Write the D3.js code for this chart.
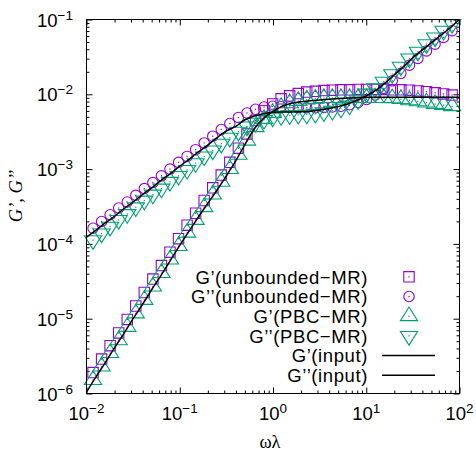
<!DOCTYPE html>
<html><head><meta charset="utf-8">
<script src="https://cdn.jsdelivr.net/npm/d3@7"></script>
<style>body{margin:0;background:#fff}svg{display:block}</style>
</head><body>
<svg id="chart" width="476" height="452"></svg>
<script>
// ---- data (y given as log10) ----
const xTickValues = [0.01, 0.1, 1, 10, 100];
const xTickExp = ["\u22122", "\u22121", "0", "1", "2"];
const yTickValues = [1e-6, 1e-5, 1e-4, 1e-3, 1e-2, 1e-1];
const yTickExp = ["\u22126", "\u22125", "\u22124", "\u22123", "\u22122", "\u22121"];

const freq = [0.01175,0.01452,0.01791,0.02213,0.02735,0.03377,0.04169,0.0515,0.06362,0.07852,
  0.09705,0.1199,0.1479,0.1828,0.2259,0.2786,0.3443,0.4256,0.526,0.6486,0.8017,0.9908,1.222,
  1.51,1.866,2.301,2.844,3.516,4.335,5.358,6.622,8.185,10.09,12.47,15.42,19.01,23.5,29.04,
  35.81,44.26,54.7,67.45,83.37];
const logGpUnbounded = [-5.72,-5.54,-5.36,-5.19,-5.01,-4.83,-4.65,-4.47,-4.29,-4.11,-3.93,-3.75,
  -3.59,-3.42,-3.25,-3.08,-2.91,-2.72,-2.53,-2.35,-2.22,-2.13,-2.06,-2.02,-1.99,-1.97,-1.96,
  -1.95,-1.945,-1.94,-1.94,-1.935,-1.935,-1.935,-1.935,-1.94,-1.94,-1.945,-1.955,-1.965,-1.98,
  -1.995,-2.01];
const logGppUnbounded = [-3.79,-3.70,-3.61,-3.52,-3.44,-3.35,-3.26,-3.18,-3.09,-3.00,-2.91,-2.83,
  -2.74,-2.65,-2.56,-2.47,-2.39,-2.31,-2.25,-2.20,-2.17,-2.16,-2.165,-2.17,-2.18,-2.18,-2.18,
  -2.175,-2.17,-2.16,-2.14,-2.11,-2.07,-2.01,-1.92,-1.82,-1.72,-1.61,-1.52,-1.42,-1.33,-1.24,-1.15];
const logGpPBC = [-5.82,-5.64,-5.46,-5.29,-5.11,-4.93,-4.75,-4.57,-4.39,-4.21,-4.03,-3.85,-3.68,
  -3.51,-3.34,-3.17,-3.00,-2.81,-2.62,-2.44,-2.33,-2.25,-2.17,-2.12,-2.09,-2.07,-2.06,-2.05,
  -2.05,-2.05,-2.05,-2.05,-2.05,-2.05,-2.05,-2.055,-2.065,-2.08,-2.095,-2.11,-2.13,-2.145,-2.16];
const logGppPBC = [-3.95,-3.86,-3.77,-3.68,-3.60,-3.51,-3.42,-3.34,-3.26,-3.17,-3.09,-3.01,-2.92,
  -2.83,-2.75,-2.66,-2.58,-2.50,-2.43,-2.38,-2.34,-2.31,-2.29,-2.28,-2.275,-2.27,-2.26,-2.24,
  -2.22,-2.19,-2.15,-2.08,-1.99,-1.92,-1.83,-1.73,-1.63,-1.52,-1.43,-1.33,-1.24,-1.15,-1.06];

const inputFreq = [0.01,0.01259,0.01585,0.01995,0.02512,0.03162,0.03981,0.05012,0.0631,0.07943,
  0.1,0.1259,0.1585,0.1995,0.2512,0.3162,0.3981,0.5012,0.631,0.7943,1,1.259,1.585,1.995,2.512,
  3.162,3.981,5.012,6.31,7.943,10,12.59,15.85,19.95,25.12,31.62,39.81,50.12,63.1,79.43,100];
const logGpInput = [-5.98,-5.78,-5.59,-5.39,-5.20,-5.00,-4.81,-4.61,-4.42,-4.22,-4.02,-3.83,-3.64,
  -3.46,-3.28,-3.09,-2.89,-2.67,-2.46,-2.32,-2.23,-2.16,-2.12,-2.10,-2.085,-2.075,-2.065,-2.055,
  -2.05,-2.045,-2.04,-2.04,-2.04,-2.04,-2.04,-2.04,-2.04,-2.04,-2.04,-2.04,-2.04];
const logGppInput = [-3.91,-3.82,-3.72,-3.63,-3.53,-3.44,-3.34,-3.25,-3.15,-3.06,-2.96,-2.87,-2.77,
  -2.68,-2.58,-2.49,-2.43,-2.34,-2.29,-2.26,-2.24,-2.235,-2.235,-2.233,-2.225,-2.21,-2.19,-2.165,
  -2.13,-2.08,-2.02,-1.95,-1.85,-1.74,-1.63,-1.51,-1.41,-1.31,-1.21,-1.11,-1.00];

const legendLabels = ["G\u2019(unbounded\u2212MR)","G\u2019\u2019(unbounded\u2212MR)","G\u2019(PBC\u2212MR)",
  "G\u2019\u2019(PBC\u2212MR)","G\u2019(input)","G\u2019\u2019(input)"];

// ---- layout ----
const L = 86.5, R = 459.5, T = 19.5, B = 393.5;
const PURPLE = "#9400d3", GREEN = "#009e73";
const svg = d3.select("#chart");
const x = d3.scaleLog().domain([0.01, 100]).range([L, R]);
const y = d3.scaleLog().domain([1e-6, 1e-1]).range([B, T]);

svg.append("defs").append("clipPath").attr("id","clip")
  .append("rect").attr("x",L).attr("y",T).attr("width",R-L).attr("height",B-T);

// minor ticks
function minors(lo, hi){ const out=[]; for(let e=lo;e<hi;e++) for(let m=2;m<=9;m++) out.push(m*Math.pow(10,e)); return out; }
const xMinor = minors(-2, 2), yMinor = minors(-6, -1);
const axG = svg.append("g").attr("class","axes");
function addAxis(gen, vals, size, tr){
  const g = axG.append("g").attr("transform", tr)
    .call(gen.tickValues(vals).tickSize(size).tickSizeOuter(0).tickFormat(""));
  g.select(".domain").remove();
  g.selectAll("line").attr("stroke","#000").attr("stroke-width",1);
}
addAxis(d3.axisBottom(x), xTickValues, -6, `translate(0,${B})`);
addAxis(d3.axisBottom(x), xMinor, -3, `translate(0,${B})`);
addAxis(d3.axisTop(x), xTickValues, -6, `translate(0,${T})`);
addAxis(d3.axisTop(x), xMinor, -3, `translate(0,${T})`);
addAxis(d3.axisLeft(y), yTickValues, -6, `translate(${L},0)`);
addAxis(d3.axisLeft(y), yMinor, -3, `translate(${L},0)`);
addAxis(d3.axisRight(y), yTickValues, -6, `translate(${R},0)`);
addAxis(d3.axisRight(y), yMinor, -3, `translate(${R},0)`);

// tick labels
const tickFont = "Liberation Sans, Arial, sans-serif";
xTickValues.forEach((v,i)=>{
  const t = svg.append("text").attr("x", x(v)).attr("y", 420).attr("text-anchor","middle")
    .attr("font-family", tickFont).attr("font-size", 18.5);
  t.append("tspan").text("10");
  t.append("tspan").attr("dy",-7).attr("font-size",13.5).text(xTickExp[i]);
});
yTickValues.forEach((v,i)=>{
  const t = svg.append("text").attr("x", 73).attr("y", y(v)+7).attr("text-anchor","end")
    .attr("font-family", tickFont).attr("font-size", 18.5);
  t.append("tspan").text("10");
  t.append("tspan").attr("dy",-7).attr("font-size",13.5).text(yTickExp[i]);
});

// axis titles
svg.append("text").attr("x", 270).attr("y", 448).attr("text-anchor","middle")
  .attr("font-family","Liberation Serif, Times New Roman, serif").attr("font-size",18.5).text("\u03c9\u03bb");
svg.append("text").attr("transform","translate(22,196) rotate(-90)").attr("text-anchor","middle")
  .attr("font-family","Liberation Serif, Times New Roman, serif").attr("font-style","italic")
  .attr("font-size",18.5).text("G\u2019, G\u2019\u2019");

// markers
const shapes = {
  square: "M-5.2,-5.2H5.2V5.2H-5.2Z",
  circle: "M5.2,0A5.2,5.2 0 1,1 -5.2,0A5.2,5.2 0 1,1 5.2,0Z",
  up: "M0,-9.2L8.6,4.4L-8.6,4.4Z",
  down: "M0,9.2L8.6,-4.4L-8.6,-4.4Z"
};
const series = [
  {vals: logGpUnbounded, color: PURPLE, shape: "square"},
  {vals: logGppUnbounded, color: PURPLE, shape: "circle"},
  {vals: logGpPBC, color: GREEN, shape: "up"},
  {vals: logGppPBC, color: GREEN, shape: "down"}
];
function marker(g, cx, cy, s){
  const m = g.append("g").attr("transform", `translate(${cx},${cy})`);
  m.append("path").attr("d", shapes[s.shape]).attr("fill","none").attr("stroke", s.color).attr("stroke-width",1.1);
  m.append("rect").attr("x",-0.6).attr("y",-0.6).attr("width",1.2).attr("height",1.2).attr("fill", s.color);
}
series.forEach(s=>{
  const g = svg.append("g");
  freq.forEach((f,i)=> marker(g, x(f), y(Math.pow(10, s.vals[i])), s));
});

// input lines
const lineGen = d3.line().x(d=>x(d[0])).y(d=>y(d[1])).curve(d3.curveMonotoneX);
[logGpInput, logGppInput].forEach(arr=>{
  svg.append("path").attr("clip-path","url(#clip)")
    .datum(inputFreq.map((f,i)=>[f, Math.pow(10, arr[i])]))
    .attr("d", lineGen).attr("fill","none").attr("stroke","#000").attr("stroke-width",1.5);
});

// legend
const legendSeries = [series[0], series[1], series[2], series[3], null, null];
legendLabels.forEach((lab,i)=>{
  const by = 283.5 + 19.7*i;
  svg.append("text").attr("x", 368).attr("y", by).attr("text-anchor","end")
    .attr("font-family", tickFont).attr("font-size", 18.5).attr("letter-spacing", 0.6).text(lab);
  const cy = by - 6.7;
  if (legendSeries[i]) marker(svg, 409, cy, legendSeries[i]);
  else svg.append("line").attr("x1",382).attr("x2",435).attr("y1",cy).attr("y2",cy)
    .attr("stroke","#000").attr("stroke-width",1.5);
});

// border
svg.append("rect").attr("x",L).attr("y",T).attr("width",R-L).attr("height",B-T)
  .attr("fill","none").attr("stroke","#000").attr("stroke-width",1);
</script>
</body></html>
